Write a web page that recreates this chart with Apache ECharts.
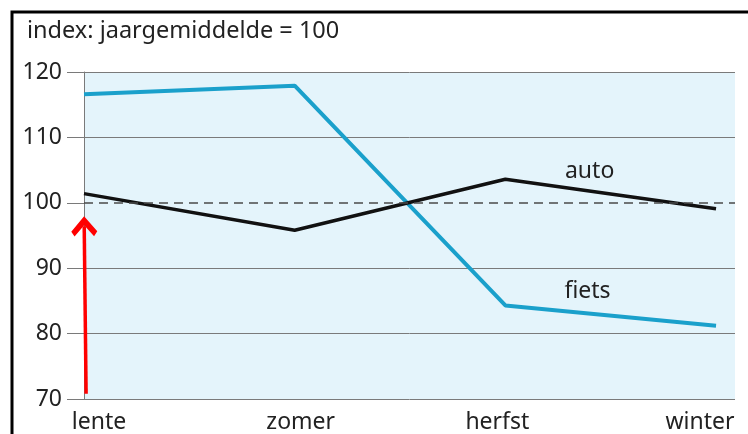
<!DOCTYPE html>
<html>
<head>
<meta charset="utf-8">
<script src="https://cdn.jsdelivr.net/npm/echarts@6/dist/echarts.min.js"></script>
<style>
  html, body {margin: 0; padding: 0; background: #fff;}
  #chart {width: 748px; height: 434px;}
</style>
</head>
<body>
<div id="chart"></div>
<script>
const seasons = ['lente', 'zomer', 'herfst', 'winter']
const fietsValues = [116.6, 117.9, 84.3, 81.2]
const autoValues = [101.4, 95.8, 103.6, 99.1]
const yTicks = [70, 80, 90, 100, 110, 120]
const baseline = 100
// where the series names sit, in data units
const autoLabelAt = [2.4, 104.8]
const fietsLabelAt = [2.39, 86.5]
// red annotation arrow, in data units (must stay inside the axis range)
const arrowFrom = [0.01, 70.8]
const arrowTo = [0.001, 96.4]

const textColor = '#222'
const gridColor = '#7a7a7a'
const font = 'Noto Sans'
const fontSize = 23

const toPoints = (vals) => vals.map((v, i) => [i, v])

// label nudges per season, so the labels sit like in the print
const labelRich = {
  s0: {padding: [0, 0, 0, 30]},
  s1: {padding: [0, 0, 0, 12]},
  s2: {padding: [0, 16, 0, 0]},
  s3: {padding: [0, 32, 0, 0]}
}

const nameLabel = {show: true, position: 'inside', formatter: '{b}', fontSize, color: textColor, fontFamily: font}

const chart = echarts.init(document.getElementById('chart'))

chart.setOption({
  backgroundColor: '#fff',
  animation: false,
  textStyle: {fontFamily: font},
  title: {
    text: 'index: jaargemiddelde = 100',
    left: 22,
    top: 14,
    textStyle: {fontFamily: font, fontSize: 23.5, fontWeight: 'normal', color: textColor}
  },
  graphic: [{
    type: 'rect',
    shape: {x: 12, y: 12, width: 780, height: 480},
    style: {fill: 'none', stroke: '#000', lineWidth: 3},
    silent: true
  }],
  grid: {
    left: 84, right: 13, top: 72, bottom: 34,
    show: true,
    backgroundColor: '#e4f4fb',
    borderWidth: 0
  },
  xAxis: {
    type: 'value',
    min: 0,
    max: 3.09,
    interval: 1,
    axisLine: {show: false},
    axisTick: {show: false},
    splitLine: {show: false},
    axisLabel: {
      margin: 12,
      fontSize,
      color: textColor,
      showMaxLabel: false,
      formatter: (v) => Number.isInteger(v) && seasons[v] ? `{s${v}|${seasons[v]}}` : '',
      rich: labelRich
    }
  },
  yAxis: {
    type: 'value',
    min: yTicks[0],
    max: yTicks[yTicks.length - 1],
    interval: 10,
    axisLine: {show: true, lineStyle: {color: gridColor, width: 1}},
    axisTick: {show: true, length: 17, lineStyle: {color: gridColor, width: 1}},
    axisLabel: {margin: 22, fontSize, color: textColor},
    splitLine: {
      show: true,
      lineStyle: {
        width: 1,
        color: yTicks.map(t => t === baseline ? 'rgba(0,0,0,0)' : gridColor)
      }
    }
  },
  series: [
    {
      name: 'fiets',
      type: 'line',
      data: toPoints(fietsValues),
      symbol: 'none',
      lineStyle: {color: '#1aa0cb', width: 4},
      z: 3,
      markPoint: {
        silent: true,
        symbol: 'circle',
        symbolSize: 0,
        label: nameLabel,
        data: [{name: 'fiets', coord: fietsLabelAt}]
      }
    },
    {
      name: 'auto',
      type: 'line',
      data: toPoints(autoValues),
      symbol: 'none',
      lineStyle: {color: '#111', width: 3.5},
      z: 4,
      markPoint: {
        silent: true,
        symbol: 'circle',
        symbolSize: 0,
        label: nameLabel,
        data: [{name: 'auto', coord: autoLabelAt}]
      },
      markLine: {
        silent: true,
        symbol: 'none',
        label: {show: false},
        lineStyle: {color: '#4a4a4a', type: [9, 6], width: 1.6},
        data: [
          {yAxis: baseline},
          [
            {coord: arrowFrom, symbol: 'none', lineStyle: {color: '#ff0000', type: 'solid', width: 3.5}},
            {
              coord: arrowTo,
              symbol: 'path://M0,0 L12,11 L9,14.5 L0,6.5 L-9,14.5 L-12,11 Z',
              symbolSize: [26, 20],
              itemStyle: {color: '#ff0000'}
            }
          ]
        ]
      }
    }
  ]
})
</script>
</body>
</html>
